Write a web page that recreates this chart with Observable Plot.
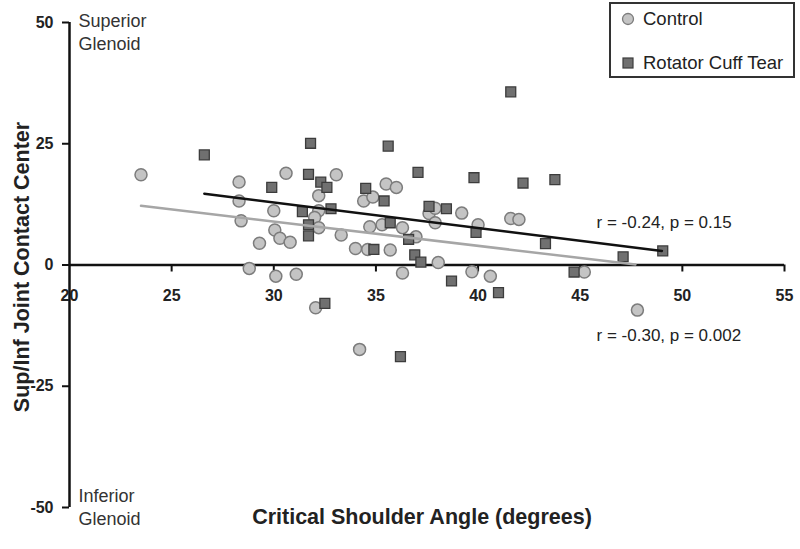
<!DOCTYPE html>
<html><head><meta charset="utf-8">
<script src="https://cdn.jsdelivr.net/npm/d3@7"></script>
<script src="https://cdn.jsdelivr.net/npm/@observablehq/plot@0.6"></script>
<style>
body{margin:0;background:#fff;}
#wrap{position:relative;width:800px;height:549px;font-family:"Liberation Sans",Arial,sans-serif;}
#legend{position:absolute;left:609px;top:2px;width:186px;height:76px;border:2px solid #333;box-sizing:border-box;background:#fff;color:#222;font-size:18.5px;white-space:nowrap;}
.item{position:absolute;left:0;height:22px;display:flex;align-items:center;}
.item svg{margin-left:10px;margin-right:8px;}
</style></head>
<body><div id="wrap"><div id="legend"></div></div>
<script>
// Control (circles)
const controlX = [23.5, 28.3, 28.3, 28.4, 28.8, 29.3, 30.0, 30.05, 30.3, 30.6, 30.8, 30.1, 31.1, 32.2, 32.2, 32.0, 32.2, 32.05, 33.06, 33.3, 34.4, 34.85, 35.5, 36.0, 34.7, 35.3, 36.3, 36.96, 34.0, 34.6, 35.7, 37.6, 37.9, 37.9, 39.2, 40.0, 38.05, 36.3, 39.7, 40.6, 41.6, 42.0, 45.2, 47.8, 34.2];
const controlY = [18.6, 17.1, 13.2, 9.1, -0.7, 4.5, 11.2, 7.2, 5.5, 18.9, 4.7, -2.3, -1.9, 14.3, 11.2, 9.8, 7.7, -8.8, 18.6, 6.2, 13.2, 14.0, 16.7, 16.0, 7.9, 8.3, 7.7, 5.8, 3.4, 3.2, 3.1, 10.6, 11.7, 8.7, 10.7, 8.3, 0.5, -1.65, -1.4, -2.3, 9.6, 9.4, -1.45, -9.3, -17.4];
// Rotator Cuff Tear (squares)
const rctX = [26.6, 31.8, 29.9, 31.7, 32.3, 32.6, 31.4, 32.8, 31.7, 31.7, 32.5, 35.6, 34.5, 35.4, 37.06, 39.8, 42.2, 41.6, 37.6, 38.45, 35.7, 36.6, 34.9, 36.9, 37.2, 39.9, 43.3, 38.7, 41.0, 43.76, 47.1, 49.04, 44.7, 36.2];
const rctY = [22.7, 25.1, 16.0, 18.7, 17.1, 16.0, 11.0, 11.6, 8.3, 6.0, -7.9, 24.5, 15.8, 13.2, 19.1, 18.0, 16.9, 35.7, 12.1, 11.6, 8.7, 5.3, 3.2, 2.1, 0.6, 6.7, 4.4, -3.3, -5.7, 17.6, 1.7, 2.9, -1.45, -18.9];
// Trend lines (endpoints)
const controlFitX = [23.5, 47.7];
const controlFitY = [12.2, 0.1];
const rctFitX = [26.6, 49.0];
const rctFitY = [14.7, 2.9];
// Ticks
const xTicks = [20, 25, 30, 35, 40, 45, 50, 55];
const yTicks = [50, 25, 0, -25, -50];
const seriesNames = ["Control", "Rotator Cuff Tear"];
const statX = [45.8, 45.8];
const statY = [8.7, -14.6];
const statText = ["r = -0.24, p = 0.15", "r = -0.30, p = 0.002"];

const control = controlX.map((x, i) => ({x, y: controlY[i]}));
const rct = rctX.map((x, i) => ({x, y: rctY[i]}));
const cFit = controlFitX.map((x, i) => ({x, y: controlFitY[i]}));
const rFit = rctFitX.map((x, i) => ({x, y: rctFitY[i]}));
const stats = statText.map((t, i) => ({x: statX[i], y: statY[i], t}));

const chart = Plot.plot({
  width: 800, height: 549,
  marginLeft: 69, marginRight: 16, marginTop: 22, marginBottom: 42,
  x: {domain: [20, 55], axis: null},
  y: {domain: [-50, 50], axis: null},
  style: {fontFamily: '"Liberation Sans", Arial, sans-serif', background: "#fff", color: "#111"},
  marks: [
    // x tick labels
    Plot.text(xTicks, {x: d => d, y: 0, dy: 31, text: d => String(d), fontSize: 16, fontWeight: "bold", fill: "#222"}),
    // y tick labels
    Plot.text(yTicks, {x: 20, y: d => d, dx: -16, textAnchor: "end", text: d => String(d), fontSize: 16, fontWeight: "bold", fill: "#222"}),
    // axis lines
    Plot.ruleY([0], {x1: 20, x2: 55, stroke: "#111", strokeWidth: 2.5}),
    Plot.ruleX([20], {y1: -50, y2: 50, stroke: "#111", strokeWidth: 2.5}),
    // x ticks (down from axis)
    Plot.ruleX(xTicks.slice(1), {y1: 0, y2: 0, insetBottom: -7, stroke: "#111", strokeWidth: 2}),
    // y ticks (left from axis)
    Plot.ruleY(yTicks, {x1: 20, x2: 20, insetLeft: -7, stroke: "#111", strokeWidth: 2}),
    // points
    Plot.dot(control, {x: "x", y: "y", r: 6, symbol: "circle", fill: "#c4c4c4", stroke: "#7c7c7c", strokeWidth: 1.5}),
    Plot.dot(rct, {x: "x", y: "y", r: 5.6, symbol: "square", fill: "#707070", stroke: "#3c3c3c", strokeWidth: 1.3}),
    // trend lines
    Plot.line(cFit, {x: "x", y: "y", stroke: "#a6a6a6", strokeWidth: 2.5}),
    Plot.line(rFit, {x: "x", y: "y", stroke: "#111", strokeWidth: 2.5}),
    // stats
    Plot.text(stats, {x: "x", y: "y", text: "t", textAnchor: "start", fontSize: 17, fill: "#222"}),
    // annotations
    Plot.text(["Superior\nGlenoid"], {x: 20, y: 50, dx: 9, dy: -11, textAnchor: "start", lineAnchor: "top", lineHeight: 1.25, fontSize: 18, fill: "#333"}),
    Plot.text(["Inferior\nGlenoid"], {x: 20, y: -50, dx: 9, dy: -21, textAnchor: "start", lineAnchor: "top", lineHeight: 1.25, fontSize: 18, fill: "#333"}),
    // axis titles
    Plot.text(["Critical Shoulder Angle (degrees)"], {frameAnchor: "bottom", dx: -5, dy: 16, textAnchor: "middle", fontSize: 21.5, fontWeight: "bold", fill: "#222"}),
    Plot.text(["Sup/Inf Joint Contact Center"], {frameAnchor: "left", dx: -47, dy: 2, textAnchor: "middle", rotate: -90, fontSize: 21.5, fontWeight: "bold", fill: "#222"})
  ]
});
const wrap = document.getElementById("wrap");
wrap.insertBefore(chart, wrap.firstChild);

const legend = document.getElementById("legend");
const swatches = [
  '<svg width="14" height="14"><circle cx="7" cy="7" r="5.5" fill="#c4c4c4" stroke="#7c7c7c" stroke-width="1.3"/></svg>',
  '<svg width="14" height="14"><rect x="2" y="2" width="10" height="10" fill="#707070" stroke="#3c3c3c" stroke-width="1.2"/></svg>'
];
const tops = [4, 48];
seriesNames.forEach((name, i) => {
  const d = document.createElement("div");
  d.className = "item";
  d.style.top = tops[i] + "px";
  d.innerHTML = swatches[i] + "<span>" + name + "</span>";
  legend.appendChild(d);
});
</script></body></html>
